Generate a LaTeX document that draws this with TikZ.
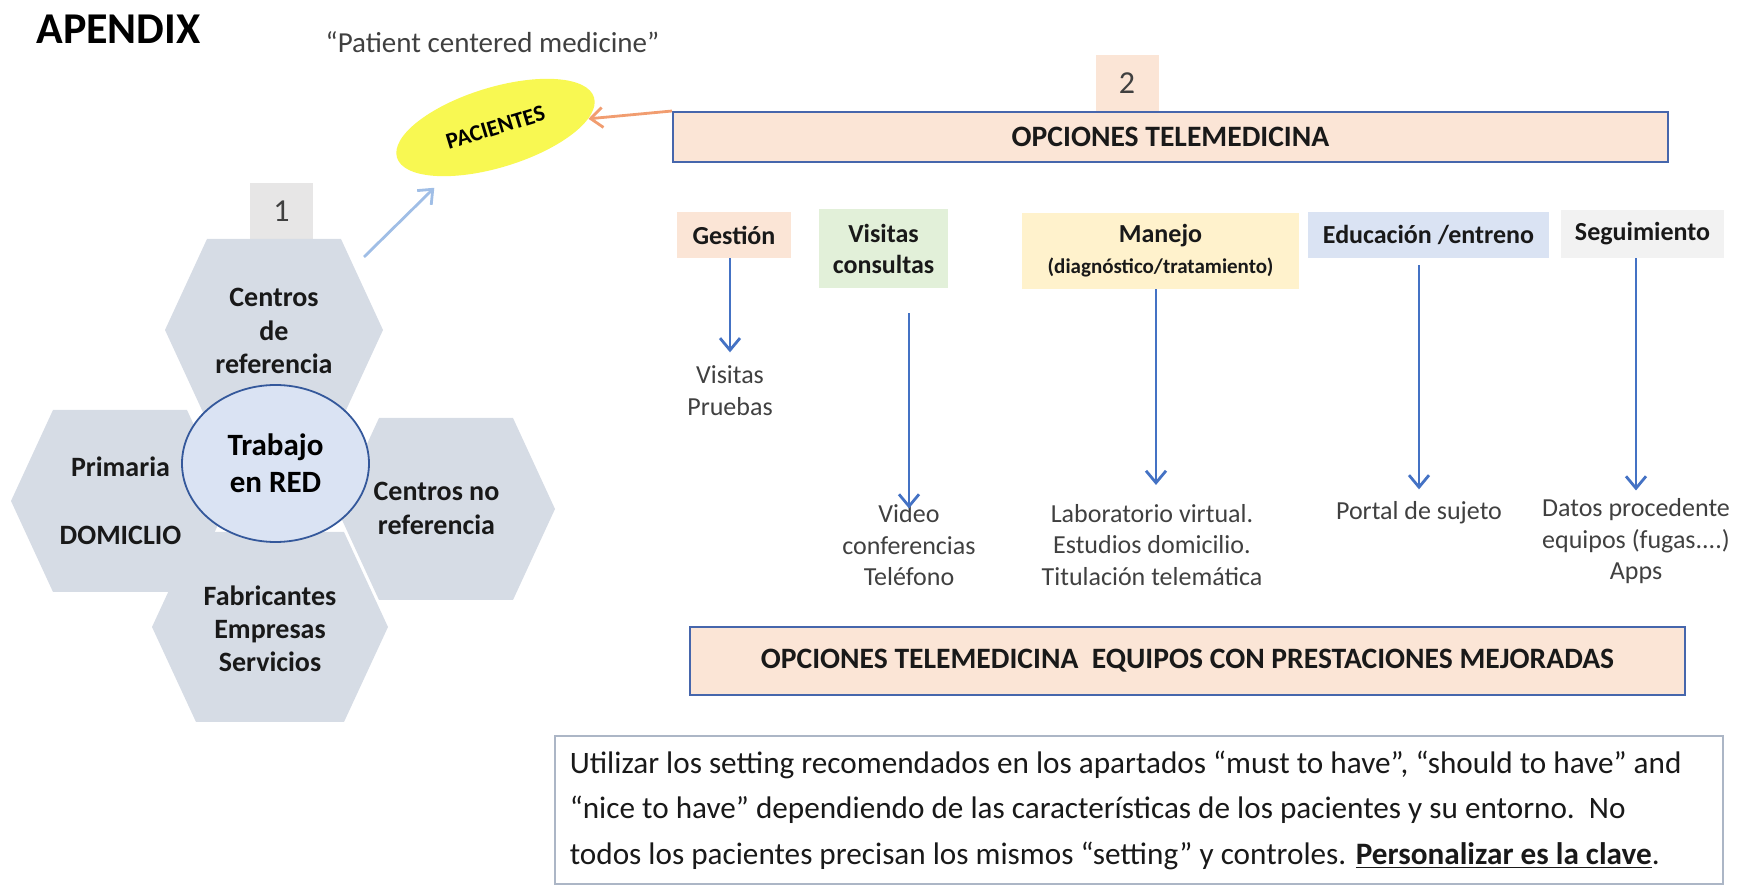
\documentclass[tikz,border=0pt]{standalone}
\usepackage{fontspec}
\setmainfont{Carlito}
\usetikzlibrary{shapes.geometric,arrows.meta,positioning}

\definecolor{hexgray}{RGB}{214,220,229}
\definecolor{netblue}{RGB}{218,227,243}
\definecolor{darkblue}{RGB}{52,88,155}
\definecolor{peach}{RGB}{251,229,214}
\definecolor{mint}{RGB}{226,240,217}
\definecolor{cream}{RGB}{255,242,204}
\definecolor{numgray}{RGB}{231,230,230}
\definecolor{paleg}{RGB}{242,242,242}
\definecolor{arrowblue}{RGB}{68,114,196}
\definecolor{skyarrow}{RGB}{160,190,230}
\definecolor{salmon}{RGB}{241,157,112}
\definecolor{pacyellow}{RGB}{248,248,82}
\definecolor{textgray}{RGB}{64,64,64}
\definecolor{barblue}{RGB}{70,102,172}
\definecolor{notegray}{RGB}{172,182,198}

\begin{document}
\begin{tikzpicture}[x=0.5pt, y=-0.5pt,
   hex_style/.style={fill=hexgray},
   hex_label/.style={align=center, inner sep=0pt, text=black!90, font=\fontsize{14}{16.6}\selectfont\bfseries},
   num_style/.style={minimum width=31.5pt, minimum height=28pt, inner sep=0pt, text=textgray, font=\fontsize{16}{18}\selectfont},
   head_style/.style={align=center, inner sep=0pt, text=black!90, font=\fontsize{13}{15.5}\selectfont\bfseries},
   out_style/.style={align=center, inner sep=0pt, text=textgray, font=\fontsize{13}{15.75}\selectfont},
   bar_style/.style={draw=barblue, line width=1pt, fill=peach, inner sep=0pt, text=black!90, font=\fontsize{14.8}{17}\selectfont\bfseries},
   down_style/.style={draw=arrowblue, line width=1.4pt, -{Straight Barb[length=6pt,width=10pt]}},
   side_style/.style={line width=1.4pt, -{Straight Barb[length=6pt,width=10pt]}}]

    \useasboundingbox (0,0) rectangle (1737,887);

    % titles
    \node[inner sep=0pt, font=\fontsize{22}{26}\selectfont\bfseries] (apendix) at (118.5,29) {APENDIX};
    \node[inner sep=0pt, text=textgray, font=\fontsize{14.5}{17}\selectfont] (motto) at (492.5,42) {“Patient centered medicine”};

    % network
    \node[num_style, fill=numgray] (n1) at (281.5,211) {1};
    \fill[hex_style] (165,330) -- (207,239) -- (341,239) -- (383,330) -- (341,421) -- (207,421) -- cycle;
    \fill[hex_style] (11,501) -- (53,410) -- (187,410) -- (229,501) -- (187,592) -- (53,592) -- cycle;
    \fill[hex_style] (337,509) -- (379,418) -- (513,418) -- (555,509) -- (513,600) -- (379,600) -- cycle;
    \fill[hex_style] (152,627) -- (196,532) -- (344,532) -- (388,627) -- (344,722) -- (196,722) -- cycle;
    \node[hex_label] (cref) at (274,331) {Centros\\de\\referencia};
    \node[hex_label] (prim) at (120.5,501) {Primaria\\[17.4pt]DOMICLIO};
    \node[hex_label] (cnoref) at (436.5,508.5) {Centros no\\referencia};
    \node[hex_label] (fabr) at (270,629) {Fabricantes\\Empresas\\Servicios};
    \node[ellipse, draw=darkblue, line width=0.9pt, fill=netblue, minimum width=93.5pt, minimum height=78.5pt,
          inner sep=0pt, align=center, font=\fontsize{15.5}{18.5}\selectfont\bfseries] (red) at (275.5,463.5) {Trabajo\\en RED};

    % patients
    \node[ellipse, fill=pacyellow, rotate=17, minimum width=103pt, minimum height=40pt, inner sep=0pt,
          font=\fontsize{11.5}{13}\selectfont\bfseries] (pac) at (495.5,127.5) {PACIENTES};
    \coordinate (cref_out) at (364,257);
    \draw[side_style, draw=skyarrow, shorten >=8pt] (cref_out) -- (pac);

    % options
    \node[bar_style, minimum width=497.5pt, minimum height=25pt] (opt) at (1170.5,137) {OPCIONES TELEMEDICINA};
    \node[num_style, fill=peach] (n2) at (1127,83.5) {2};
    \draw[side_style, draw=salmon] (opt.north west) -- (pac);

    \node[head_style, fill=peach, minimum width=57pt, minimum height=23pt] (ges) at (734,235) {Gestión};
    \node[head_style, fill=mint, minimum width=64.5pt, minimum height=39.5pt] (vis) at (883.5,248.5) {Visitas\\consultas};
    \node[head_style, fill=cream, minimum width=138.5pt, minimum height=38pt] (man) at (1160.5,251)
         {Manejo\\{\fontsize{10.5}{12}\selectfont(diagnóstico/tratamiento)}};
    \node[head_style, fill=netblue, minimum width=120.5pt, minimum height=23pt] (edu) at (1428.5,235) {Educación /entreno};
    \node[head_style, fill=paleg, minimum width=81.5pt, minimum height=24pt] (seg) at (1642.5,234) {Seguimiento};

    \node[out_style] (ges_out) at (730,390.5) {Visitas\\Pruebas};
    \node[out_style] (vis_out) at (909,545.5) {Video\\conferencias\\Teléfono};
    \node[out_style] (man_out) at (1152,545) {Laboratorio virtual.\\Estudios domicilio.\\Titulación telemática};
    \node[out_style] (edu_out) at (1419,513) {Portal de sujeto};
    \node[out_style] (seg_out) at (1636,541.5) {Datos procedente\\equipos (fugas....)\\Apps};

    \draw[down_style, shorten >=6.5pt] (ges.south -| ges_out.north) -- (ges_out.north);
    \draw[down_style, shorten <=12.5pt, shorten >=-2pt] (vis.south -| vis_out.north) -- (vis_out.north);
    \draw[down_style, shorten >=9.5pt] ([xshift=2pt]man.south -| man_out.north) -- ([xshift=2pt]man_out.north);
    \draw[down_style, shorten <=3.5pt, shorten >=6pt] (edu.south -| edu_out.north) -- (edu_out.north);
    \draw[down_style, shorten >=4pt] (seg.south -| seg_out.north) -- (seg_out.north);

    \node[bar_style, minimum width=497.5pt, minimum height=34pt] (equip) at (1187.5,661)
         {OPCIONES TELEMEDICINA\ \ EQUIPOS CON PRESTACIONES MEJORADAS};

    % note
    \node[draw=notegray, line width=0.6pt, minimum width=584pt, minimum height=74pt, inner sep=0pt] (note) at (1139,810) {};
    \node[anchor=west, align=left, inner sep=0pt, text=black!90, font=\fontsize{15.6}{22.75}\selectfont] (note_txt)
         at ([xshift=7.5pt]note.west)
         {Utilizar los setting recomendados en los apartados “must to have”, “should to have” and\\
          “nice to have” dependiendo de las características de los pacientes y su entorno.\ \ No\\
          todos los pacientes precisan los mismos “setting” y controles. \textbf{\underline{Personalizar es la clave}}.};
\end{tikzpicture}
\end{document}
